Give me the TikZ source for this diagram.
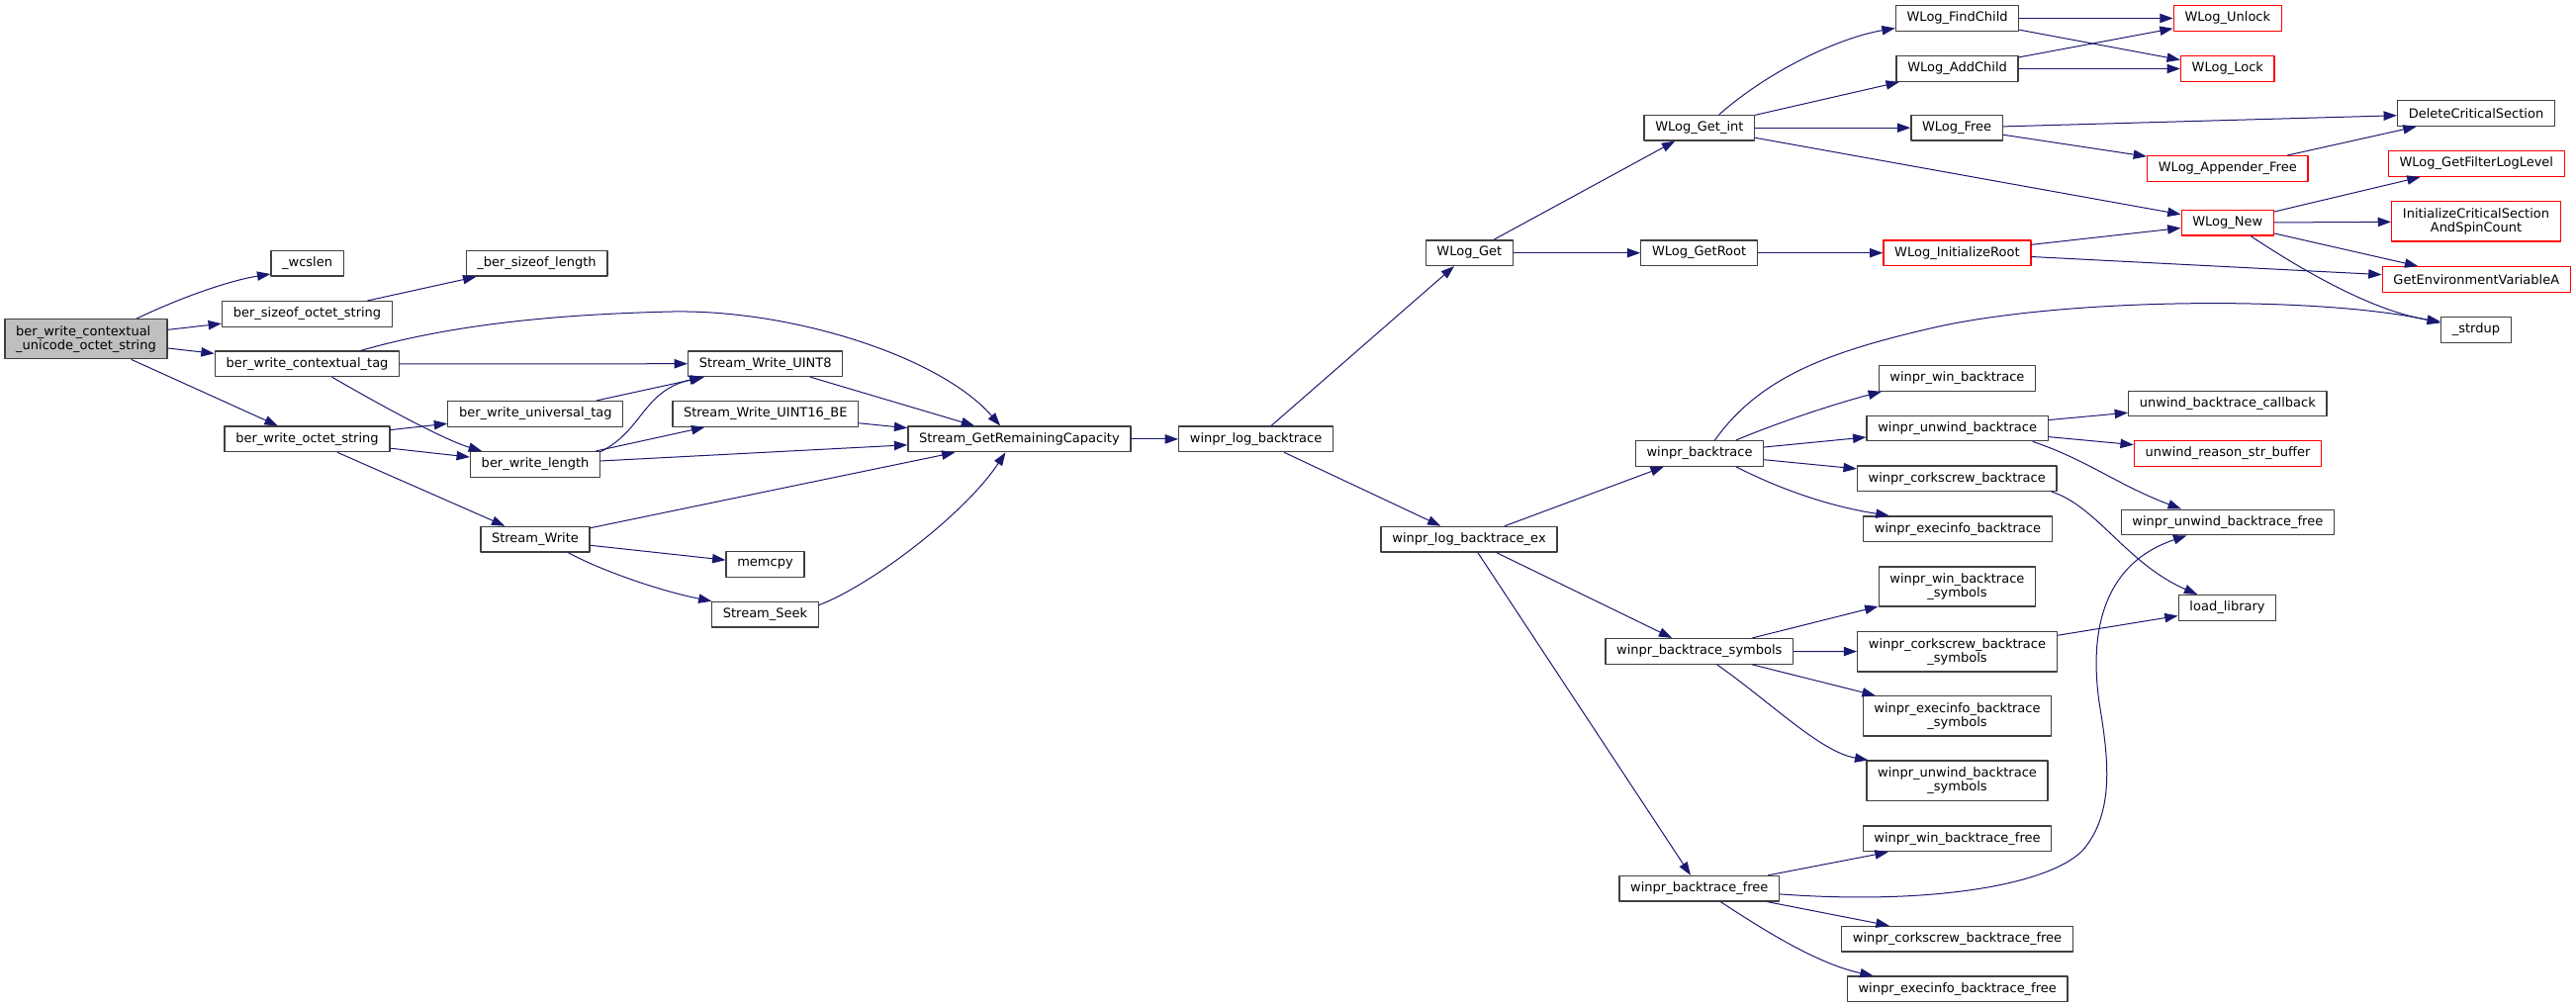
\documentclass[tikz,border=0pt]{standalone}
\usepackage{fontspec}
\setmainfont{DejaVu Sans}
\usetikzlibrary{arrows.meta}
\definecolor{edgeblue}{RGB}{25,25,112}
\definecolor{boxgray}{RGB}{64,64,64}
\definecolor{rootfill}{RGB}{191,191,191}
\definecolor{boxred}{RGB}{255,0,0}

\begin{document}
\begin{tikzpicture}[line cap=round,line join=round,>={Triangle[length=10pt,width=7pt]},x=0.75pt,y=-0.75pt,
  fn/.style={draw=boxgray,line width=1pt,fill=white,inner xsep=8.4pt,inner ysep=0pt,minimum height=19.2pt,font=\fontsize{9.75}{10.5}\selectfont},
  fnred/.style={fn,draw=boxred},
  twoline/.style={minimum height=30.2pt,align=center},
  call/.style={->,color=edgeblue,line width=0.75pt}]
\useasboundingbox (0,0) rectangle (2604,1019);
% callers on the left
\node[fn,twoline,align=left,fill=rootfill] (root) at (87,342.7) {ber\_write\_contextual\\\_unicode\_octet\_string};
\node[fn] (wcslen) at (310.6,266.3) {\_wcslen};
\node[fn] (sizeofos) at (310.5,317.4) {ber\_sizeof\_octet\_string};
\node[fn] (wctag) at (310.5,367.9) {ber\_write\_contextual\_tag};
\node[fn] (wos) at (310.5,443.9) {ber\_write\_octet\_string};
\node[fn] (sizeoflen) at (542.5,266.3) {\_ber\_sizeof\_length};
\node[fn] (wunitag) at (541.3,418.4) {ber\_write\_universal\_tag};
\node[fn] (wlen) at (541.1,469.4) {ber\_write\_length};
\node[fn] (swrite) at (541,545.2) {Stream\_Write};
\node[fn] (swu8) at (773.7,367.7) {Stream\_Write\_UINT8};
\node[fn] (swu16) at (773.8,418.4) {Stream\_Write\_UINT16\_BE};
\node[fn] (memcpy) at (773.5,570.5) {memcpy};
\node[fn] (sseek) at (773.5,621.2) {Stream\_Seek};
\node[fn] (sgrc) at (1030.4,443.9) {Stream\_GetRemainingCapacity};
\node[fn] (logbt) at (1269.6,443.9) {winpr\_log\_backtrace};
% wlog and backtrace
\node[fn] (wlget) at (1485.3,255.7) {WLog\_Get};
\node[fn] (logbtex) at (1485,545.2) {winpr\_log\_backtrace\_ex};
\node[fn] (wlgetint) at (1717.9,129.2) {WLog\_Get\_int};
\node[fn] (wlgetroot) at (1717.6,255.7) {WLog\_GetRoot};
\node[fn] (bt) at (1718,458.4) {winpr\_backtrace};
\node[fn] (btsym) at (1717.8,658.4) {winpr\_backtrace\_symbols};
\node[fn] (btfree) at (1717.8,898.2) {winpr\_backtrace\_free};
\node[fn] (findchild) at (1978.6,18.5) {WLog\_FindChild};
\node[fn] (addchild) at (1978.6,69.5) {WLog\_AddChild};
\node[fn] (wlfree) at (1978.1,129.2) {WLog\_Free};
\node[fnred] (initroot) at (1978.4,255.7) {WLog\_InitializeRoot};
\node[fn] (winbt) at (1978.4,382.4) {winpr\_win\_backtrace};
\node[fn] (unwbt) at (1978.6,433) {winpr\_unwind\_backtrace};
\node[fn] (corkbt) at (1978.2,483.7) {winpr\_corkscrew\_backtrace};
\node[fn] (execbt) at (1978.9,534.7) {winpr\_execinfo\_backtrace};
\node[fn,twoline] (winsym) at (1978.4,593) {winpr\_win\_backtrace\\\_symbols};
\node[fn,twoline] (corksym) at (1978.5,658.7) {winpr\_corkscrew\_backtrace\\\_symbols};
\node[fn,twoline] (execsym) at (1978.5,723.9) {winpr\_execinfo\_backtrace\\\_symbols};
\node[fn,twoline] (unwsym) at (1978.5,789.2) {winpr\_unwind\_backtrace\\\_symbols};
\node[fn] (winfree) at (1978.5,847.9) {winpr\_win\_backtrace\_free};
\node[fn] (corkfree) at (1978.5,949.2) {winpr\_corkscrew\_backtrace\_free};
\node[fn] (execfree) at (1978.7,999.9) {winpr\_execinfo\_backtrace\_free};
\node[fnred] (unlock) at (2251.8,18.5) {WLog\_Unlock};
\node[fnred] (lock) at (2251.8,69.5) {WLog\_Lock};
\node[fnred] (appfree) at (2251.8,170.5) {WLog\_Appender\_Free};
\node[fnred] (wlnew) at (2251.8,225.2) {WLog\_New};
\node[fn] (cbk) at (2251.8,408) {unwind\_backtrace\_callback};
\node[fnred] (reason) at (2252,458.5) {unwind\_reason\_str\_buffer};
\node[fn] (unwfree) at (2251.8,528) {winpr\_unwind\_backtrace\_free};
\node[fn] (loadlib) at (2251.5,614.4) {load\_library};
\node[fn] (delcs) at (2503,114.5) {DeleteCriticalSection};
\node[fnred] (filter) at (2503.3,165.5) {WLog\_GetFilterLogLevel};
\node[fnred,twoline] (initcs) at (2503,223.9) {InitializeCriticalSection\\AndSpinCount};
\node[fnred] (getenv) at (2503.3,282.5) {GetEnvironmentVariableA};
\node[fn] (strdup) at (2502.9,333.4) {\_strdup};
% calls
\draw [call] (root.22) .. controls (180,302) and (230,284) .. (wcslen.196);
\draw [call] (root) -- (sizeofos);
\draw [call] (root) -- (wctag);
\draw [call] (root) -- (wos);
\draw [call] (sizeofos) -- (sizeoflen);
\draw [call] (wctag.14) .. controls (450,330) and (550,318) .. (680,315) .. controls (800,313) and (950,360) .. (sgrc.145);
\draw [call] (wctag) -- (swu8);
\draw [call] (wctag.-28) .. controls (420,430) and (460,448) .. (wlen.166);
\draw [call] (wos) -- (wunitag);
\draw [call] (wos) -- (wlen);
\draw [call] (wos) -- (swrite);
\draw [call] (wunitag) -- (swu8);
\draw [call] (wlen.11) .. controls (650,435) and (650,395) .. (swu8.192);
\draw [call] (wlen) -- (swu16);
\draw [call] (wlen) -- (sgrc);
\draw [call] (swu8) -- (sgrc);
\draw [call] (swu16) -- (sgrc);
\draw [call] (swrite) -- (sgrc);
\draw [call] (swrite) -- (memcpy);
\draw [call] (swrite.-22) .. controls (610,578) and (670,598) .. (sseek.166);
\draw [call] (sseek.10) .. controls (880,592) and (975,520) .. (sgrc.224);
\draw [call] (sgrc) -- (logbt);
\draw [call] (logbt) -- (wlget);
\draw [call] (logbt) -- (logbtex);
\draw [call] (wlget) -- (wlgetint);
\draw [call] (wlget) -- (wlgetroot);
\draw [call] (wlgetint.34) .. controls (1790,70) and (1860,38) .. (findchild.189);
\draw [call] (wlgetint) -- (addchild);
\draw [call] (wlgetint) -- (wlfree);
\draw [call] (wlgetint) -- (wlnew);
\draw [call] (wlgetroot) -- (initroot);
\draw [call] (findchild) -- (unlock);
\draw [call] (findchild) -- (lock);
\draw [call] (addchild) -- (unlock);
\draw [call] (addchild) -- (lock);
\draw [call] (wlfree) -- (delcs);
\draw [call] (wlfree) -- (appfree);
\draw [call] (appfree) -- (delcs);
\draw [call] (initroot) -- (wlnew);
\draw [call] (initroot) -- (getenv);
\draw [call] (wlnew) -- (filter);
\draw [call] (wlnew) -- (initcs);
\draw [call] (wlnew) -- (getenv);
\draw [call] (wlnew.-30) .. controls (2330,275) and (2400,315) .. (strdup.167);
\draw [call] (logbtex) -- (bt);
\draw [call] (logbtex) -- (btsym);
\draw [call] (logbtex) -- (btfree);
\draw [call] (bt.41) .. controls (1780,380) and (1850,355) .. (1960,330) .. controls (2100,300) and (2350,300) .. (strdup.169);
\draw [call] (bt.20) .. controls (1795,428) and (1855,408) .. (winbt.190);
\draw [call] (bt) -- (unwbt);
\draw [call] (bt) -- (corkbt);
\draw [call] (bt.-20) .. controls (1800,495) and (1850,512) .. (execbt.169);
\draw [call] (unwbt) -- (cbk);
\draw [call] (unwbt) -- (reason);
\draw [call] (unwbt.-10) .. controls (2110,465) and (2140,490) .. (unwfree.164);
\draw [call] (corkbt.-8) .. controls (2120,512) and (2150,570) .. (loadlib.156);
\draw [call] (btsym) -- (winsym);
\draw [call] (btsym) -- (corksym);
\draw [call] (btsym) -- (execsym);
\draw [call] (btsym.-37) .. controls (1790,710) and (1840,760) .. (unwsym.167);
\draw [call] (corksym) -- (loadlib);
\draw [call] (btfree) -- (winfree);
\draw [call] (btfree.-4) .. controls (1950,915) and (2070,895) .. (2105,860) .. controls (2140,820) and (2130,760) .. (2122,710) .. controls (2112,640) and (2125,570) .. (unwfree.198);
\draw [call] (btfree) -- (corkfree);
\draw [call] (btfree.-32) .. controls (1790,945) and (1840,975) .. (execfree.171);
\end{tikzpicture}
\end{document}
